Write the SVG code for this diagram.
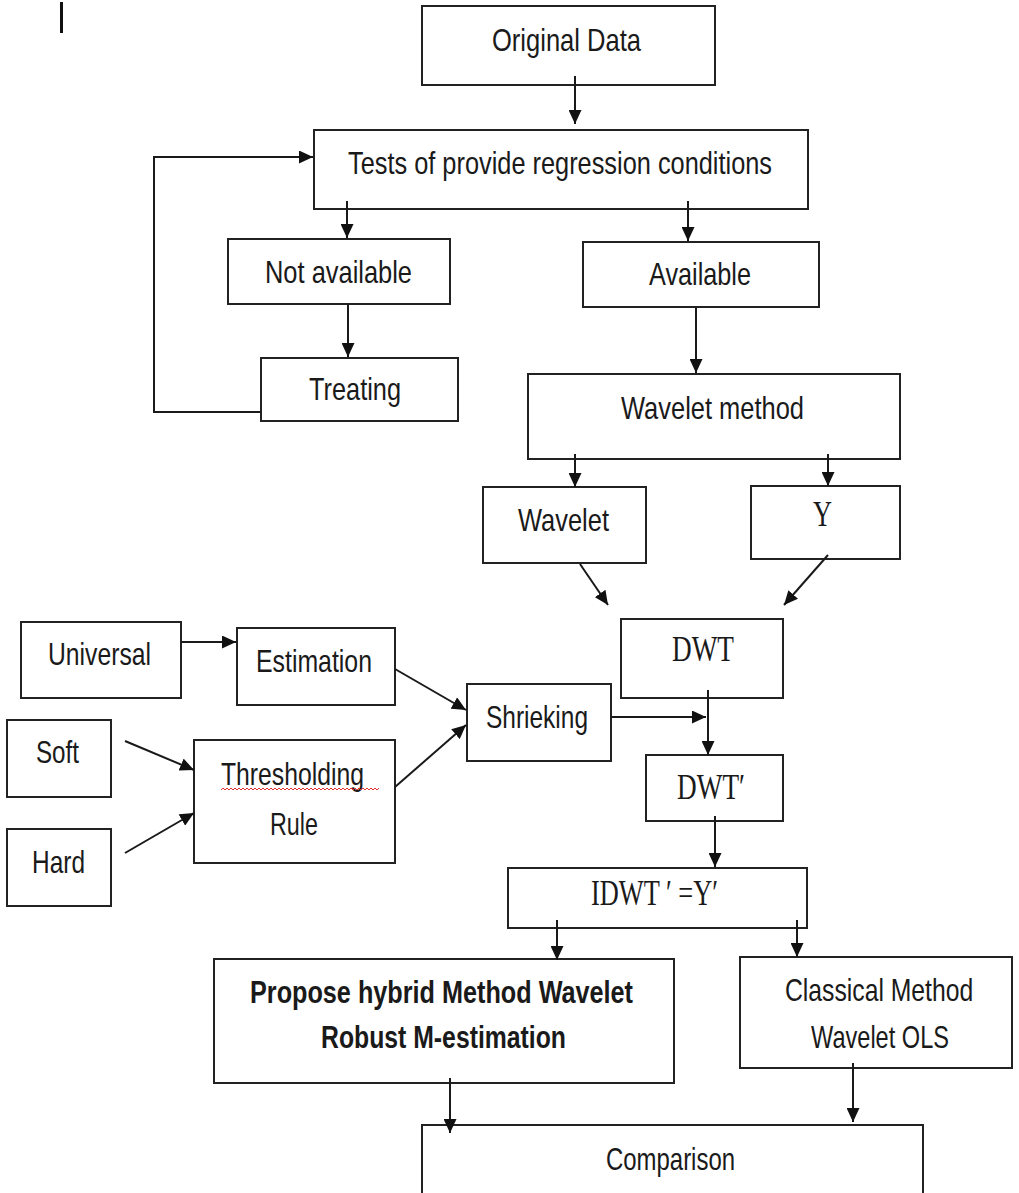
<svg xmlns="http://www.w3.org/2000/svg" width="1019" height="1193" viewBox="0 0 1019 1193">
<style>
.box{fill:#fff;stroke:#222;stroke-width:2}
.t{font-family:"Liberation Sans",Arial,sans-serif;font-size:32px;fill:#1a1a1a}
.b{font-weight:bold}
.s{font-family:"Liberation Serif","Times New Roman",serif;font-size:36px;fill:#1a1a1a}
.c{fill:none;stroke:#1a1a1a;stroke-width:2}
</style>
<defs>
<marker id="ah" markerUnits="userSpaceOnUse" markerWidth="15" markerHeight="13" refX="14" refY="6.5" orient="auto">
<path d="M0,0 L14,6.5 L0,13 z" fill="#111"/>
</marker>
</defs>
<rect x="60" y="2" width="3" height="31" fill="#111"/>
<g id="original"><rect class="box" x="422" y="6" width="293" height="79"/><text class="t" x="492" y="51" textLength="149" lengthAdjust="spacingAndGlyphs">Original Data</text></g>
<g id="tests"><rect class="box" x="314" y="130" width="494" height="79"/><text class="t" x="348" y="174" textLength="424" lengthAdjust="spacingAndGlyphs">Tests of provide regression conditions</text></g>
<g id="notavail"><rect class="box" x="228" y="239" width="222" height="65"/><text class="t" x="265" y="283" textLength="147" lengthAdjust="spacingAndGlyphs">Not available</text></g>
<g id="avail"><rect class="box" x="583" y="242" width="236" height="65"/><text class="t" x="649" y="285" textLength="102" lengthAdjust="spacingAndGlyphs">Available</text></g>
<g id="treating"><rect class="box" x="261" y="358" width="197" height="63"/><text class="t" x="309" y="400" textLength="92" lengthAdjust="spacingAndGlyphs">Treating</text></g>
<g id="wmethod"><rect class="box" x="528" y="374" width="372" height="85"/><text class="t" x="621" y="419" textLength="183" lengthAdjust="spacingAndGlyphs">Wavelet method</text></g>
<g id="wavelet"><rect class="box" x="483" y="487" width="163" height="76"/><text class="t" x="518" y="531" textLength="91" lengthAdjust="spacingAndGlyphs">Wavelet</text></g>
<g id="y"><rect class="box" x="751" y="486" width="149" height="73"/><text class="s" x="813" y="526" textLength="19" lengthAdjust="spacingAndGlyphs">Y</text></g>
<g id="dwt"><rect class="box" x="621" y="619" width="162" height="79"/><text class="s" x="672" y="661" textLength="62" lengthAdjust="spacingAndGlyphs">DWT</text></g>
<g id="universal"><rect class="box" x="21" y="622" width="160" height="76"/><text class="t" x="48" y="665" textLength="103" lengthAdjust="spacingAndGlyphs">Universal</text></g>
<g id="estimation"><rect class="box" x="237" y="628" width="158" height="77"/><text class="t" x="256" y="672" textLength="116" lengthAdjust="spacingAndGlyphs">Estimation</text></g>
<g id="shrieking"><rect class="box" x="467" y="684" width="144" height="77"/><text class="t" x="486" y="728" textLength="102" lengthAdjust="spacingAndGlyphs">Shrieking</text></g>
<g id="soft"><rect class="box" x="7" y="720" width="104" height="77"/><text class="t" x="36" y="763" textLength="43" lengthAdjust="spacingAndGlyphs">Soft</text></g>
<g id="threshold"><rect class="box" x="194" y="740" width="201" height="123"/><text class="t" x="221" y="785" textLength="143" lengthAdjust="spacingAndGlyphs">Thresholding</text><path d="M221,790 l2,-2 l2,2 l2,-2 l2,2 l2,-2 l2,2 l2,-2 l2,2 l2,-2 l2,2 l2,-2 l2,2 l2,-2 l2,2 l2,-2 l2,2 l2,-2 l2,2 l2,-2 l2,2 l2,-2 l2,2 l2,-2 l2,2 l2,-2 l2,2 l2,-2 l2,2 l2,-2 l2,2 l2,-2 l2,2 l2,-2 l2,2 l2,-2 l2,2 l2,-2 l2,2 l2,-2 l2,2 l2,-2 l2,2 l2,-2 l2,2 l2,-2 l2,2 l2,-2 l2,2 l2,-2 l2,2 l2,-2 l2,2 l2,-2 l2,2 l2,-2 l2,2 l2,-2 l2,2 l2,-2 l2,2 l2,-2 l2,2 l2,-2 l2,2 l2,-2 l2,2 l2,-2 l2,2 l2,-2 l2,2 l2,-2 l2,2 l2,-2 l2,2 l2,-2 l2,2 l2,-2 l2,2 l2,-2" fill="none" stroke="#e03030" stroke-width="1"/><text class="t" x="270" y="835" textLength="48" lengthAdjust="spacingAndGlyphs">Rule</text></g>
<g id="hard"><rect class="box" x="7" y="829" width="104" height="77"/><text class="t" x="32" y="873" textLength="53" lengthAdjust="spacingAndGlyphs">Hard</text></g>
<g id="dwtp"><rect class="box" x="646" y="755" width="137" height="66"/><text class="s" x="677" y="799" textLength="68" lengthAdjust="spacingAndGlyphs">DWT′</text></g>
<g id="idwt"><rect class="box" x="508" y="868" width="299" height="60"/><text class="s" x="591" y="905" font-size="31" textLength="127" lengthAdjust="spacingAndGlyphs">IDWT ′ =Y′</text></g>
<g id="propose"><rect class="box" x="214" y="959" width="460" height="124"/><text class="t b" x="250" y="1003" textLength="383" lengthAdjust="spacingAndGlyphs">Propose hybrid Method Wavelet</text><text class="t b" x="321" y="1048" textLength="245" lengthAdjust="spacingAndGlyphs">Robust M-estimation</text></g>
<g id="classical"><rect class="box" x="740" y="957" width="272" height="111"/><text class="t" transform="translate(785 1001) scale(0.75 1)" x="0" y="0" textLength="251" lengthAdjust="spacingAndGlyphs">Classical Method</text><text class="t" x="811" y="1048" textLength="138" lengthAdjust="spacingAndGlyphs">Wavelet OLS</text></g>
<g id="comparison"><rect class="box" x="422" y="1125" width="501" height="80"/><text class="t" x="606" y="1170" textLength="129" lengthAdjust="spacingAndGlyphs">Comparison</text></g>
<g id="connectors" class="c">
<path d="M575,76 L575,124" marker-end="url(#ah)"/>
<path d="M347,201 L347,238" marker-end="url(#ah)"/>
<path d="M688,201 L688,241" marker-end="url(#ah)"/>
<path d="M348,304 L348,357" marker-end="url(#ah)"/>
<path d="M261,412 L154,412 L154,157 L313,157" marker-end="url(#ah)"/>
<path d="M696,307 L696,373" marker-end="url(#ah)"/>
<path d="M575,454 L575,487" marker-end="url(#ah)"/>
<path d="M828,454 L828,486" marker-end="url(#ah)"/>
<path d="M580,564 L608,605" marker-end="url(#ah)"/>
<path d="M828,555 L784,605" marker-end="url(#ah)"/>
<path d="M181,642 L236,642" marker-end="url(#ah)"/>
<path d="M395,669 L466,710" marker-end="url(#ah)"/>
<path d="M125,741 L194,770" marker-end="url(#ah)"/>
<path d="M125,853 L194,813" marker-end="url(#ah)"/>
<path d="M395,787 L466,725" marker-end="url(#ah)"/>
<path d="M611,717 L706,717" marker-end="url(#ah)"/>
<path d="M708,690 L708,755" marker-end="url(#ah)"/>
<path d="M715,816 L715,867" marker-end="url(#ah)"/>
<path d="M557,920 L557,960" marker-end="url(#ah)"/>
<path d="M797,920 L797,957" marker-end="url(#ah)"/>
<path d="M450,1078 L450,1133" marker-end="url(#ah)"/>
<path d="M853,1063 L853,1122" marker-end="url(#ah)"/>
</g>
</svg>
